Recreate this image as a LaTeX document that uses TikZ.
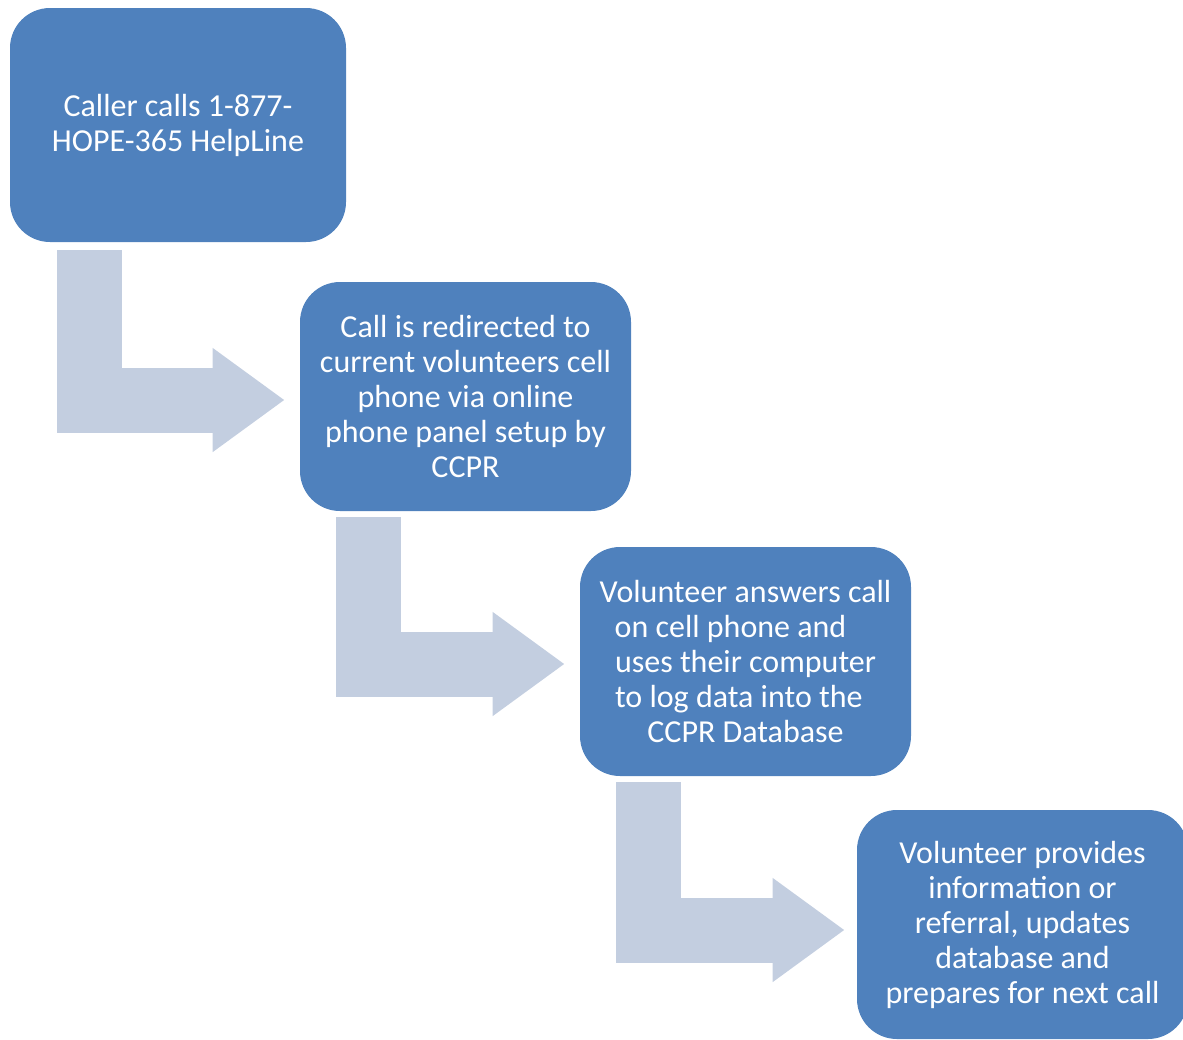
\documentclass[tikz,border=0pt]{standalone}
\usepackage{fontspec}
\setmainfont{Carlito}
\usetikzlibrary{arrows.meta,calc}
\definecolor{boxblue}{HTML}{4F81BD}
\definecolor{flowgrey}{HTML}{C3CEE0}

\begin{document}
\begin{tikzpicture}[x=0.75pt,y=-0.75pt,
    stepbox/.style={fill=boxblue,rounded corners=30pt,text=white,align=center,
      font=\fontsize{24}{26.25}\selectfont,inner sep=0pt,
      minimum width=248.25pt,minimum height=171.75pt},
    flow/.style={draw=flowgrey,line width=48.75pt,line join=miter,
      -{Triangle[length=54pt,width=74.25pt]}}]
        \useasboundingbox (0,0) rectangle (1183,1040);
        \node[stepbox,minimum width=252pt,minimum height=175.5pt] (call) at (178,125)
          {Caller calls 1-877-\\HOPE-365 HelpLine};
        \node[stepbox] (redirect) at (465.5,396.5)
          {Call is redirected to\\current volunteers cell\\phone via online\\phone panel setup by\\CCPR};
        \node[stepbox] (answer) at (745.5,661.5)
          {Volunteer answers call\\on cell phone and\rule{22.5pt}{0pt}\\uses their computer\\to log data into the\rule{10pt}{0pt}\\CCPR Database};
        \node[stepbox] (provide) at (1022.5,924.5)
          {Volunteer provides\\information or\\referral, updates\\database and\\prepares for next call};
        % bent arrows between the steps
        \draw[flow] ($(call.south west)+(79.5,8)$) |- ($(redirect.west)+(-15,3.5)$);
        \draw[flow] ($(redirect.south west)+(69,6)$) |- ($(answer.west)+(-15,2.5)$);
        \draw[flow] ($(answer.south west)+(69,6)$) |- ($(provide.west)+(-12,5.5)$);
      \end{tikzpicture}
\end{document}
